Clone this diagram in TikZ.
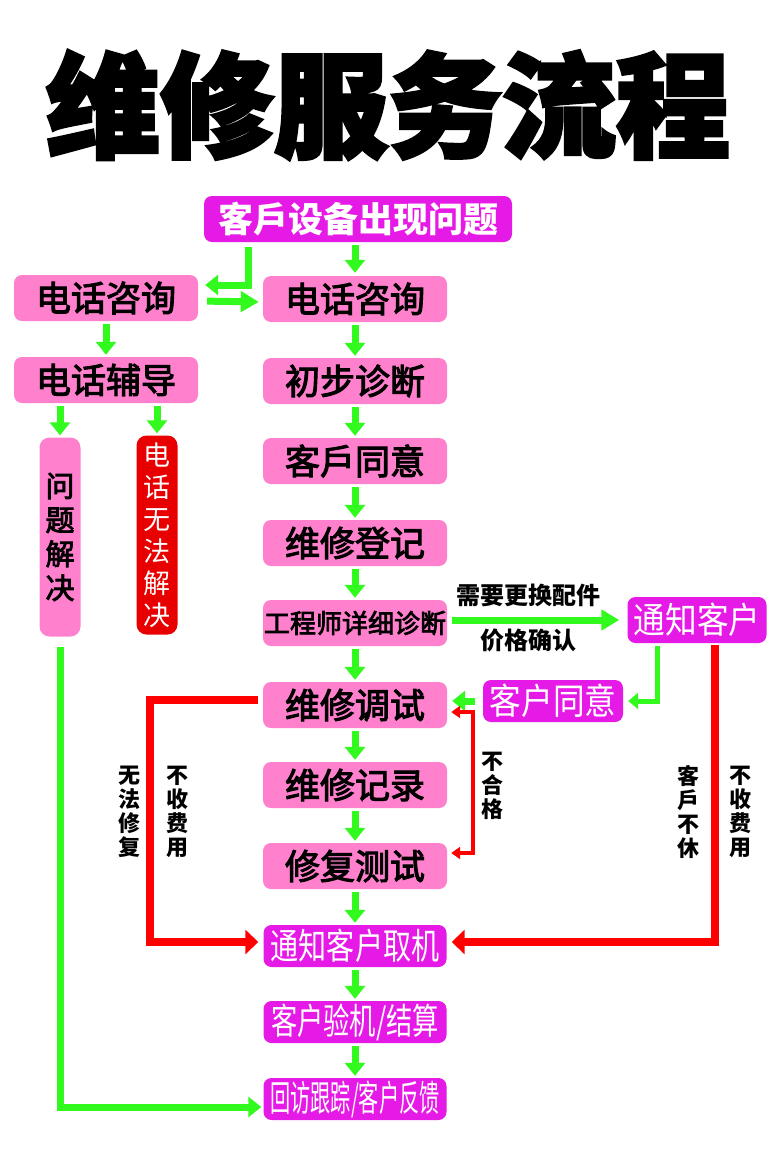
\documentclass[tikz,border=0pt]{standalone}
\usepackage{fontspec}
\usepackage{graphicx}
\newfontfamily\cjk{Noto Sans CJK SC}
\newfontfamily\cjkmed{Noto Sans CJK SC}[FakeBold=3]
\newfontfamily\titlefont{Noto Sans CJK SC}[FakeBold=3]
\usetikzlibrary{arrows.meta,calc}
\definecolor{pnk}{RGB}{255,128,204}
\definecolor{mgt}{RGB}{230,26,230}
\definecolor{grn}{RGB}{51,250,30}
\definecolor{rd}{RGB}{255,0,0}
\definecolor{boxred}{RGB}{232,0,0}
\newcommand{\sqz}[2]{\scalebox{#1}[1]{#2}}

\begin{document}
\begin{tikzpicture}[x=1pt, y=-1pt,
 pink node/.style={rectangle, rounded corners=8pt, fill=pnk, minimum width=184pt, minimum height=46pt, inner sep=0pt, font=\cjkmed\fontsize{35}{35}\selectfont},
 mag node/.style={rectangle, rounded corners=8pt, fill=mgt, text=white, minimum width=183pt, minimum height=42pt, inner sep=0pt, font=\cjk\fontsize{36}{36}\selectfont},
 tall node/.style={rectangle, rounded corners=10pt, minimum width=41pt, minimum height=199pt, inner sep=0pt, align=center},
 lbl/.style={align=center, inner sep=0pt, font=\cjk\bfseries\fontsize{22}{24}\selectfont},
 garrow/.style={draw=grn, line width=7pt, -{Triangle[width=20pt,length=13pt]}},
 rarrow/.style={draw=rd, line width=8pt, -{Triangle[width=24pt,length=13pt]}},
 rthin/.style={draw=rd, line width=3.5pt, {Triangle[width=12pt,length=9pt]}-{Triangle[width=12pt,length=9pt]}}]
\fill[white] (0,0) rectangle (777,1165);
\useasboundingbox (0,0) rectangle (777,1165);

% title
\node[font=\titlefont\bfseries\fontsize{114}{114}\selectfont] (title) at (388,105) {维修服务流程};

% boxes
\node[mag node, font=\cjk\bfseries\fontsize{35}{35}\selectfont, minimum width=308pt, minimum height=46pt] (tb) at (358,219) {客戶设备出现问题};
\node[pink node] (c1) at (106,298) {电话咨询};
\node[pink node] (c2) at (355,299) {电话咨询};
\node[pink node] (g1) at (106,380) {电话辅导};
\node[pink node] (d2) at (355,381) {初步诊断};
\node[pink node] (d3) at (355,461) {客戶同意};
\node[pink node] (d4) at (355,543) {维修登记};
\node[pink node, font=\cjkmed\fontsize{26}{26}\selectfont] (d5) at (355,623) {工程师详细诊断};
\node[pink node] (d6) at (355,705) {维修调试};
\node[pink node] (d7) at (355,785) {维修记录};
\node[pink node] (d8) at (355,866) {修复测试};
\node[mag node] (d9) at (355,946) {\sqz{0.78}{通知客户取机}};
\node[mag node] (d10) at (355,1022) {\sqz{0.73}{客户验机/结算}};
\node[mag node] (d11) at (355,1099) {\sqz{0.56}{回访跟踪/客户反馈}};
\node[mag node, minimum width=139pt, minimum height=46pt] (n1) at (697,620) {\sqz{0.88}{通知客户}};
\node[mag node, minimum width=140pt] (a1) at (553,701) {\sqz{0.88}{客户同意}};
\node[tall node, fill=pnk, font=\cjkmed\fontsize{29}{34}\selectfont] (p1) at (60,537) {问\\题\\解\\决};
\node[tall node, fill=boxred, text=white, font=\cjk\fontsize{27}{32}\selectfont] (p2) at (157,535) {电\\话\\无\\法\\解\\决};

% labels
\node[lbl] (w1) at (129,812) {无\\法\\修\\复};
\node[lbl] (w2) at (177,812) {不\\收\\费\\用};
\node[lbl] (w3) at (492,786) {不\\合\\格};
\node[lbl] (w4) at (688,812) {客\\戶\\不\\休};
\node[lbl] (w5) at (740,812) {不\\收\\费\\用};

% green arrows
\draw[garrow, shorten <=3pt, shorten >=3pt] (tb.south -| c2.north) -- (c2.north);
\foreach \a/\b in {c2/d2, d2/d3, d3/d4, d4/d5, d5/d6, d6/d7, d7/d8, d8/d9, d9/d10, d10/d11, c1/g1}
  \draw[garrow, shorten <=3pt, shorten >=2pt] (\a) -- (\b);
\draw[garrow, shorten <=3pt, shorten >=2pt] (g1.south -| p1.north) -- (p1.north);
\draw[garrow, shorten <=3pt, shorten >=2pt] (g1.south -| p2.north) -- (p2.north);
\draw[garrow, shorten <=5pt, shorten >=7pt] ([xshift=-110pt]tb.south) |- ([yshift=13pt]c1.east);
\draw[garrow, -{Triangle[width=20pt,length=18pt]}, shorten <=9pt, shorten >=4pt] ([yshift=-3pt]c1.east) -- ([yshift=-3pt]c2.west);
\draw[garrow, shorten <=10pt, shorten >=2pt] (p1.south) |- ([yshift=-8pt]d11.west);
\draw[garrow, -{Triangle[width=20pt,length=18pt]}, shorten <=5pt, shorten >=8pt] ([yshift=3pt]d5.east) -- (n1.west)
  node[lbl, font=\cjk\bfseries\fontsize{24}{24}\selectfont, pos=0.45, above=10pt] (q1) {需要更换配件}
  node[lbl, font=\cjk\bfseries\fontsize{24}{24}\selectfont, pos=0.45, below=5pt] (q2) {价格确认};
\draw[garrow, line width=5pt, -{Triangle[width=16pt,length=10pt]}, shorten <=3pt, shorten >=5pt] ([xshift=-40pt]n1.south) |- (a1.east);
\draw[garrow, shorten <=8pt, shorten >=5pt] (a1.west) -- (a1.west -| d6.east);

% red arrows
\draw[rarrow, shorten <=2pt, shorten >=5pt] ([xshift=18pt]n1.south) |- ([yshift=4pt]d9.east);
\draw[rarrow, shorten <=5pt, shorten >=5pt] ([yshift=5pt]d6.west) -- ++(-113,0) |- ([yshift=4pt]d9.west);
\draw[rthin, shorten <=4pt, shorten >=4pt] ([yshift=-7pt]d6.east) -- ++(26,0) |- ([yshift=13pt]d8.east);
\end{tikzpicture}
\end{document}
